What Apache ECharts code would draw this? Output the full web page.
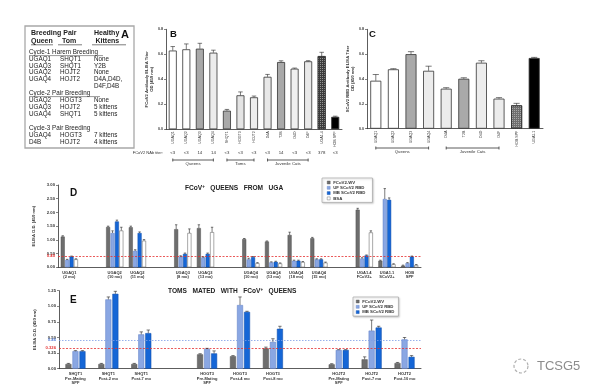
<!DOCTYPE html>
<html><head><meta charset="utf-8">
<script src="https://cdn.jsdelivr.net/npm/echarts@6/dist/echarts.min.js"></script>
<style>html,body{margin:0;padding:0;background:#fff}#c{width:600px;height:392px}</style>
</head><body><div id="c"></div>
<script>
var FONT = 'Liberation Sans, Arial, sans-serif';
// ---- Panel B ----
var bCats = ['UGAQ1','UGAQ2','UGAQ3','UGAQ4','SHQT1','HOGT3','HOJT2','D4A','T2B','D4D','D4F','UGA1.4','HOB SPF'];
var bVals = [0.63,0.64,0.645,0.613,0.149,0.272,0.256,0.42,0.538,0.485,0.544,0.586,0.10];
var bErr  = [0.032,0.043,0.043,0.02,0.01,0.027,0.01,0.019,0.01,0.005,0.005,0.03,0.005];
var bTiter = ['<3','<3','14','14','<3','<3','<3','<3','14','<3','<3','378','<3'];
// ---- Panel C ----
var cCats = ['UGAQ1','UGAQ2','UGAQ3','UGAQ4','D4A','T2B','D4D','D4F','HOB SPF','UGA1.1'];
var cVals = [0.386,0.478,0.60,0.466,0.322,0.402,0.531,0.242,0.188,0.569];
var cErr  = [0.05,0.005,0.02,0.037,0.008,0.008,0.016,0.008,0.016,0.005];
// ---- Panel D ----
var dCats = ['UGAQ1\n(2 mo)','','UGAQ2\n(10 mo)','UGAQ2\n(11 mo)','','UGAQ3\n(8 mo)','UGAQ3\n(13 mo)','','UGAQ4\n(10 mo)','UGAQ4\n(13 mo)','UGAQ4\n(18 mo)','UGAQ4\n(15 mo)','','UGA1.4\nFCoV2+','UGA1.1\nSCoV2+','HOB\nSPF'];
var dWV  = [1.12,null,1.47,1.46,null,1.39,1.43,null,1.03,0.94,1.18,1.06,null,2.10,0.24,0.06];
var dUF  = [0.27,null,1.25,0.60,null,0.39,0.36,null,0.29,0.18,0.24,0.29,null,0.32,2.49,0.15];
var dMB  = [0.39,null,1.67,1.25,null,0.49,0.49,null,0.37,0.20,0.24,0.29,null,0.43,2.46,0.39];
var dBSA = [0.29,null,1.34,0.97,null,1.25,1.28,null,0.15,0.14,0.19,0.17,null,1.27,0.11,0.08];
var dWVe = [0.03,null,0.03,0.04,null,0.16,0.12,null,0.02,0.02,0.10,0.03,null,0.05,0.02,0.02];
var dUFe = [0.02,null,0.08,0.04,null,0.03,0.02,null,0.04,0.02,0.02,0.02,null,0.03,0.38,0.02];
var dMBe = [0.02,null,0.05,0.04,null,0.03,0.03,null,0.02,0.02,0.02,0.02,null,0.02,0.07,0.02];
var dBSAe= [0.02,null,0.12,0.04,null,0.15,0.18,null,0.02,0.02,0.02,0.02,null,0.06,0.02,0.02];
var dCut = 0.40;
// ---- Panel E ----
var eCats = ['SHQT1\nPre-Mating\nSPF','SHQT1\nPost-2 mo','SHQT1\nPost-7 mo','','HOGT3\nPre-Mating\nSPF','HOGT3\nPost-4 mo','HOGT3\nPost-8 mo','','HOJT2\nPre-Mating\nSPF','HOJT2\nPost-7 mo','HOJT2\nPost-10 mo'];
var eWV  = [0.075,0.075,0.075,null,0.23,0.20,0.326,null,0.07,0.15,0.09];
var eUF  = [0.28,1.11,0.55,null,0.316,1.02,0.43,null,0.30,0.61,0.47];
var eMB  = [0.28,1.20,0.57,null,0.245,0.91,0.64,null,0.30,0.66,0.19];
var eWVe = [0.01,0.01,0.01,null,0.01,0.01,0.02,null,0.01,0.04,0.01];
var eUFe = [0.01,0.04,0.04,null,0.01,0.13,0.05,null,0.005,0.17,0.03];
var eMBe = [0.01,0.04,0.05,null,0.04,0.01,0.04,null,0.005,0.02,0.02];
var eCutRed = 0.326, eCutBlue = 0.46;
var seriesNames = ['FCoV2-WV','UF SCoV2 RBD','MB SCoV2 RBD','BSA'];

// styles
var bFill = ['#ffffff','#ffffff','#a9a9a9','#ececec','#a9a9a9','#e4e4e4','#ededed','#e8e8e8','#a9a9a9','#f0f0f0','#e9e9e9','#3c3c3c','#000000'];
var cFill = ['#ffffff','#ffffff','#a9a9a9','#ececec','#ececec','#a9a9a9','#ededed','#ececec','#6f6f6f','#000000'];
var sFill = ['#6e6e6e','#8aa7e3','#1566d6','#ffffff'];
var sBorder = ['#505050','#5c7dc4','#0c4aa6','#555555'];

var chart = echarts.init(document.getElementById('c'));

function errSeries(xi, yi, vals, errs, n, i, bw, gap){
  var d = [];
  vals.forEach(function(v,k){ if(v!=null && errs[k]!=null) d.push([k, v, errs[k]]); });
  return {type:'custom', xAxisIndex:xi, yAxisIndex:yi, z:5, silent:true, data:d, encode:{x:0,y:1},
    renderItem:function(p, api){
      var k=api.value(0), v=api.value(1), e=api.value(2);
      var a=api.coord([k,v]), b=api.coord([k,v+e]);
      var cx=a[0]+(i-(n-1)/2)*(bw+gap);
      var c=Math.max(1.2, bw*0.28);
      return {type:'group', children:[
        {type:'line', shape:{x1:cx,y1:a[1],x2:cx,y2:b[1]}, style:{stroke:'#222',lineWidth:0.6}},
        {type:'line', shape:{x1:cx-c,y1:b[1],x2:cx+c,y2:b[1]}, style:{stroke:'#222',lineWidth:0.6}}]};
    }};
}
function catAxis(gi, data, extra){
  var o = {type:'category', gridIndex:gi, data:data,
    axisLine:{lineStyle:{color:'#333',width:0.8}}, axisTick:{show:false},
    axisLabel:{fontFamily:FONT, fontSize:4, color:'#333', fontWeight:'bold', margin:3, interval:0, lineHeight:4.6}};
  for (var k in extra) o[k]=extra[k];
  return o;
}
function valAxis(gi, max, interval, dec, name, nameGap, fs){
  return {type:'value', gridIndex:gi, min:0, max:max, interval:interval,
    axisLine:{show:true, lineStyle:{color:'#333',width:0.8}},
    axisTick:{show:true, length:2, lineStyle:{color:'#333',width:0.6}},
    splitLine:{show:false},
    axisLabel:{fontFamily:FONT, fontSize:fs, color:'#333', fontWeight:'bold', margin:3, formatter:function(v){return v.toFixed(dec);}},
    name:name, nameLocation:'middle', nameGap:nameGap,
    nameTextStyle:{fontFamily:FONT, fontSize:4.2, color:'#333', fontWeight:'bold', lineHeight:5}};
}

var series = [];
// B
series.push({type:'bar', xAxisIndex:0, yAxisIndex:0, barWidth:8,
  data: bVals.map(function(v,k){
    var it = {value:v, itemStyle:{color:bFill[k], borderColor:'#333', borderWidth:0.8}};
    if (k===11) it.itemStyle.decal = {symbol:'rect', symbolSize:1, color:'rgba(255,255,255,0.45)', dashArrayX:[1,1], dashArrayY:[1,1]};
    return it;})});
series.push(errSeries(0,0,bVals,bErr,1,0,8,0));
// C
series.push({type:'bar', xAxisIndex:2, yAxisIndex:1, barWidth:11,
  data: cVals.map(function(v,k){
    var it = {value:v, itemStyle:{color:cFill[k], borderColor:'#333', borderWidth:0.8}};
    if (k===8) it.itemStyle.decal = {symbol:'rect', symbolSize:1, color:'rgba(255,255,255,0.4)', dashArrayX:[1,1], dashArrayY:[1,1]};
    return it;})});
series.push(errSeries(2,1,cVals,cErr,1,0,11,0));
// D
var dSets=[dWV,dUF,dMB,dBSA], dErrs=[dWVe,dUFe,dMBe,dBSAe];
dSets.forEach(function(arr,i){
  var s = {type:'bar', name:seriesNames[i], xAxisIndex:3, yAxisIndex:2, barWidth:4, barGap:'10%',
    itemStyle:{color:sFill[i], borderColor:sBorder[i], borderWidth:0.5}, data:arr};
  if (i===0) s.markLine = {silent:true, symbol:'none', animation:false,
    lineStyle:{color:'#e53030', type:[2,1.5], width:0.8},
    label:{position:'start', formatter:dCut.toFixed(2), color:'#e53030', fontSize:4.2, fontWeight:'bold', fontFamily:FONT, distance:3},
    data:[{yAxis:dCut}]};
  series.push(s);
});
dSets.forEach(function(arr,i){ series.push(errSeries(3,2,arr,dErrs[i],4,i,4,0.4)); });
// E
var eSets=[eWV,eUF,eMB], eErrs=[eWVe,eUFe,eMBe];
eSets.forEach(function(arr,i){
  var s = {type:'bar', name:seriesNames[i], xAxisIndex:4, yAxisIndex:3, barWidth:6, barGap:'17%',
    itemStyle:{color:sFill[i], borderColor:sBorder[i], borderWidth:0.5}, data:arr};
  if (i===0) s.markLine = {silent:true, symbol:'none', animation:false,
    data:[
      {yAxis:eCutBlue, lineStyle:{color:'#7d9de6', type:[1.5,1.5], width:0.8},
        label:{position:'start', formatter:eCutBlue.toFixed(2), color:'#5b82d8', fontSize:4.2, fontWeight:'bold', fontFamily:FONT, distance:3}},
      {yAxis:eCutRed, lineStyle:{color:'#e53030', type:[2,1.5], width:0.8},
        label:{position:'start', formatter:String(eCutRed), color:'#e53030', fontSize:4.2, fontWeight:'bold', fontFamily:FONT, distance:3}}]};
  series.push(s);
});
eSets.forEach(function(arr,i){ series.push(errSeries(4,3,arr,eErrs[i],3,i,6,1)); });

function legendCfg(names, left, top, pad){
  return {data:names.map(function(n,i){ return {name:n, itemStyle:{color:sFill[i], borderColor:sBorder[i], borderWidth:0.4}}; }),
    orient:'vertical', left:left, top:top, icon:'rect', itemWidth:3, itemHeight:3, itemGap:1.3,
    padding:pad, borderColor:'#999', borderWidth:0.6, backgroundColor:'#fff', selectedMode:false,
    shadowColor:'rgba(0,0,0,0.25)', shadowBlur:2, shadowOffsetX:1, shadowOffsetY:1,
    textStyle:{fontFamily:FONT, fontSize:4.3, fontWeight:'bold', color:'#333', padding:[0,0,0,-2]}};
}
var titleRich = {a:{fontFamily:FONT, fontSize:6.6, fontWeight:'bold', color:'#222'}, s:{fontFamily:FONT, fontSize:4.5, fontWeight:'bold', color:'#222', verticalAlign:'top', padding:[0,0,4,0]}};

var option = {
  animation:false,
  textStyle:{fontFamily:FONT},
  title:[
    {text:'{a|FCoV}{s|+}{a|   QUEENS   FROM   UGA}', left:180, top:179, textStyle:{rich:titleRich}},
    {text:'{a|TOMS   MATED   WITH   FCoV}{s|+}{a|   QUEENS}', left:163, top:282, textStyle:{rich:titleRich}}
  ],
  legend:[legendCfg(seriesNames, 322, 178, [2.5,7,2,5]), legendCfg(seriesNames.slice(0,3), 353, 297, [2.5,4,2,3])],
  grid:[
    {left:166, top:29.3, width:176, height:100},
    {left:367, top:29.3, width:176, height:99.4},
    {left:58, top:185, width:363, height:82.3},
    {left:59, top:290.7, width:362, height:78}
  ],
  xAxis:[
    catAxis(0, bCats, {axisLabel:{fontFamily:FONT, fontSize:3.6, color:'#333', rotate:90, margin:2, interval:0}}),
    {type:'category', gridIndex:0, data:bTiter, position:'bottom', offset:23.7,
      axisLine:{show:false}, axisTick:{show:false},
      axisLabel:{fontFamily:FONT, fontSize:4.3, color:'#333', margin:0, verticalAlign:'middle', interval:0},
      name:'FCoV2 NAb titer:', nameLocation:'start', nameGap:3,
      nameTextStyle:{fontFamily:FONT, fontSize:4, color:'#333', verticalAlign:'middle'}},
    catAxis(1, cCats, {axisLabel:{fontFamily:FONT, fontSize:3.6, color:'#333', rotate:90, margin:2, interval:0}}),
    catAxis(2, dCats, {}),
    catAxis(3, eCats, {})
  ],
  yAxis:[
    valAxis(0, 0.8, 0.2, 1, 'FCoV2 Antibody ELISA Titer\nOD (450 nm)', 12, 3.6),
    valAxis(1, 0.8, 0.2, 1, 'SCoV2 RBD Antibody ELISA Titer\nOD (450 nm)', 12, 3.6),
    valAxis(2, 3, 0.5, 2, 'ELISA O.D. (450 nm)', 14, 4.2),
    valAxis(3, 1.25, 0.25, 2, 'ELISA O.D. (450 nm)', 14, 4.2)
  ],
  series:series
};
chart.setOption(option);

// ---- graphics: table A, panel letters, brackets, watermark ----
var g = [];
function txt(x,y,s,o){ o=o||{}; g.push({type:'text', x:x, y:y, z:10, silent:true, style:{text:s, fill:o.c||'#222', fontFamily:FONT,
  fontSize:o.fs||6.3, fontWeight:o.fw||'normal', align:o.al||'left', verticalAlign:'middle'}}); }
function ln(x1,y1,x2,y2,c,w){ g.push({type:'line', z:10, silent:true, shape:{x1:x1,y1:y1,x2:x2,y2:y2}, style:{stroke:c||'#333', lineWidth:w||0.6}}); }
g.push({type:'rect', z:9, silent:true, shape:{x:25,y:26,width:109,height:122}, style:{fill:'#fff', stroke:'#a8a8a8', lineWidth:1.3}});
txt(31,33.5,'Breeding Pair',{fw:'bold',fs:7}); txt(94,33.5,'Healthy',{fw:'bold',fs:7}); txt(121,35,'A',{fw:'bold',fs:11,c:'#111'});
txt(31,41,'Queen',{fw:'bold',fs:7}); txt(62,41,'Tom',{fw:'bold',fs:7}); txt(95.5,41,'Kittens',{fw:'bold',fs:7});
ln(31,44.8,53,44.8,'#222',0.6); ln(58,44.8,82,44.8,'#222',0.6); ln(92,44.8,126,44.8,'#222',0.6);
var rows = [
  [52.3,'Cycle-1 Harem Breeding',null,null,103],
  [59,'UGAQ1','SHQT1','None'],
  [65.8,'UGAQ3','SHQT1','Y2B'],
  [72.6,'UGAQ2','HOJT2','None'],
  [79.4,'UGAQ4','HOJT2','D4A,D4D,'],
  [86.4,'','','D4F,D4B'],
  [93.3,'Cycle-2 Pair Breeding',null,null,100],
  [100.3,'UGAQ2','HOGT3','None'],
  [107.3,'UGAQ3','HOJT2','5 kittens'],
  [114.3,'UGAQ4','SHQT1','5 kittens'],
  [128.3,'Cycle-3 Pair Breeding',null,null,0],
  [135.3,'UGAQ4','HOGT3','7 kittens'],
  [142.3,'D4B','HOJT2','4 kittens']
];
rows.forEach(function(r){
  txt(29,r[0],r[1]);
  if (r[2]!=null){ txt(60,r[0],r[2]); txt(94,r[0],r[3]); }
  else if (r[4]) ln(29,r[0]+3.3,r[4],r[0]+3.3,'#333',0.5);
});
// panel letters
txt(170,34,'B',{fw:'bold',fs:9.5,c:'#111'});
txt(369,34,'C',{fw:'bold',fs:9.5,c:'#111'});
txt(70,193,'D',{fw:'bold',fs:10,c:'#111'});
txt(70,300.5,'E',{fw:'bold',fs:10,c:'#111'});
// brackets
function bracket(xi, i0, i1, y, label){
  var x0 = chart.convertToPixel({xAxisIndex:xi}, i0), x1 = chart.convertToPixel({xAxisIndex:xi}, i1);
  ln(x0,y,x1,y,'#333',0.8); ln(x0,y-1.5,x0,y+1.5,'#333',0.8); ln(x1,y-1.5,x1,y+1.5,'#333',0.8);
  g.push({type:'text', z:10, silent:true, x:(x0+x1)/2, y:y+4, style:{text:label, fill:'#333', fontFamily:FONT, fontSize:4.3, align:'center', verticalAlign:'middle'}});
}
bracket(0,0,3,160,'Queens'); bracket(0,4,6,160,'Toms'); bracket(0,7,10,160,'Juvenile Cats');
bracket(2,0,3,148,'Queens'); bracket(2,4,7,148,'Juvenile Cats');
// watermark
g.push({type:'circle', z:10, silent:true, shape:{cx:521,cy:366,r:7}, style:{fill:'none', stroke:'#b0b0b0', lineWidth:1.2, lineDash:[3,2]}});
txt(537,366,'TCSG5',{fs:13,c:'#8c8c8c'});
chart.setOption({graphic:g});
</script></body></html>
